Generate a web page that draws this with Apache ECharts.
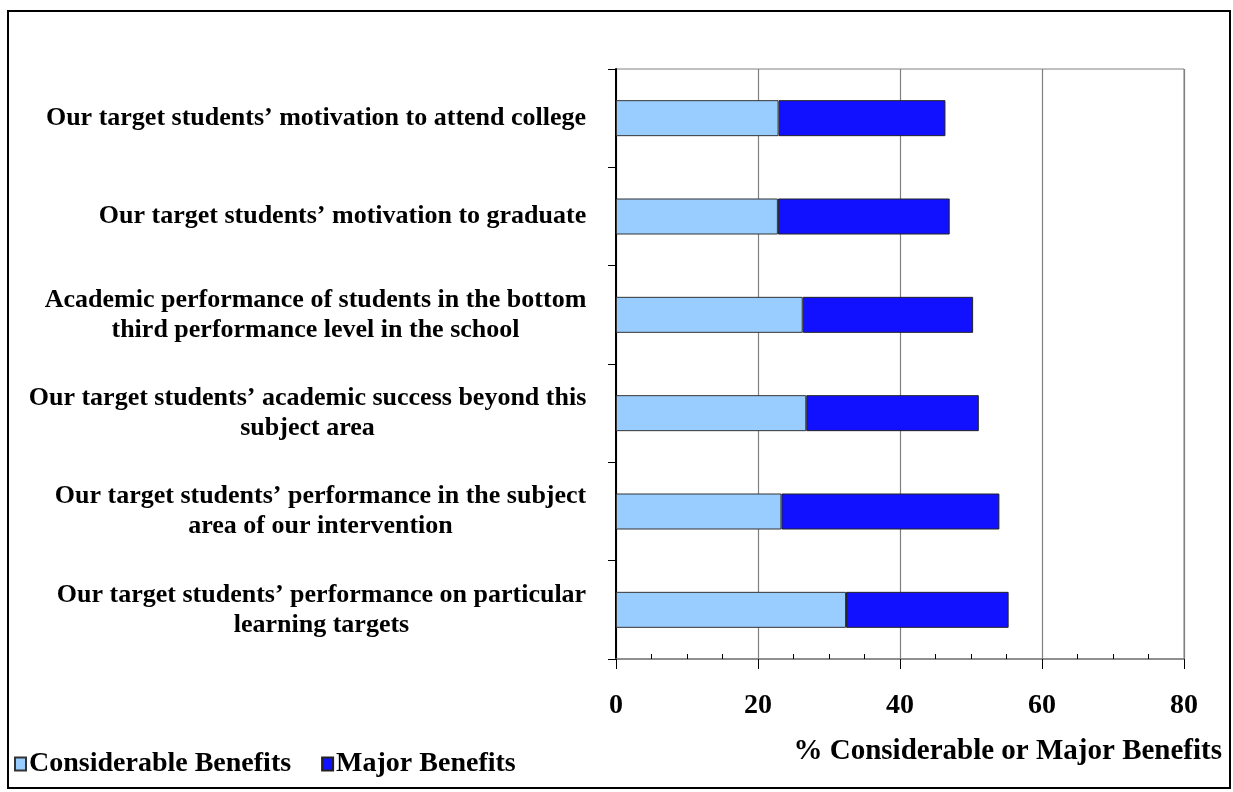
<!DOCTYPE html>
<html>
<head>
<meta charset="utf-8">
<title>Benefits of the intervention</title>
<script src="https://cdn.jsdelivr.net/npm/echarts@6/dist/echarts.min.js"></script>
<style>
  html, body { margin: 0; padding: 0; background: #ffffff; }
  #chart { width: 1233px; height: 792px; }
</style>
</head>
<body>
<div id="chart"></div>
<script>
// Survey items, listed top to bottom
const categories = [
  'Our target students\u2019 motivation to attend college',
  'Our target students\u2019 motivation to graduate',
  'Academic performance of students in the bottom\nthird performance level in the school',
  'Our target students\u2019 academic success beyond this\nsubject area',
  'Our target students\u2019 performance in the subject\narea of our intervention',
  'Our target students\u2019 performance on particular\nlearning targets'
];

// Percent of respondents per benefit level
const considerable = [22.9, 22.8, 26.3, 26.8, 23.3, 32.4];
const major = [23.5, 24.2, 24.0, 24.3, 30.7, 22.9];

const seriesNames = ['Considerable Benefits', 'Major Benefits'];
const axisTitle = '% Considerable or Major Benefits';

const xMin = 0, xMax = 80, xStep = 20;

const FONT = '"Liberation Serif", "Times New Roman", "DejaVu Serif", serif';
const LABEL_SIZE = 26;

// Measure the widest line of each label so that wrapped lines are centred
// against each other while the whole block stays right-aligned to the axis.
const measureCtx = document.createElement('canvas').getContext('2d');
measureCtx.font = 'bold ' + LABEL_SIZE + 'px ' + FONT;
const rich = {};
categories.forEach(function (c, i) {
  const w = Math.max.apply(null, c.split('\n').map(function (s) {
    return measureCtx.measureText(s).width;
  }));
  rich['c' + i] = {
    width: Math.ceil(w) + 1,
    align: 'center',
    fontSize: LABEL_SIZE,
    fontWeight: 'bold',
    fontFamily: FONT,
    color: '#000',
    lineHeight: 30
  };
});

const chart = echarts.init(document.getElementById('chart'), null, { renderer: 'canvas' });

const gridRect = { left: 616, top: 69, width: 568, height: 590 };

chart.setOption({
  backgroundColor: '#ffffff',
  animation: false,
  grid: Object.assign({
    show: true,
    borderColor: '#808080',
    borderWidth: 1,
    containLabel: false
  }, gridRect),
  legend: {
    left: 9,
    top: 745,
    itemWidth: 11,
    itemHeight: 13,
    itemGap: 30,
    icon: 'rect',
    textStyle: { fontFamily: FONT, fontWeight: 'bold', fontSize: 28, color: '#000', padding: [0, 0, 0, -2] },
    data: seriesNames
  },
  xAxis: [
    {
      type: 'value',
      min: xMin,
      max: xMax,
      interval: xStep,
      position: 'bottom',
      axisLine: { show: true, lineStyle: { color: '#808080', width: 1.5 } },
      axisTick: { show: true, length: 10, lineStyle: { color: '#000', width: 1 } },
      axisLabel: {
        margin: 33,
        fontFamily: FONT, fontWeight: 'bold', fontSize: 28, color: '#000'
      },
      splitLine: { show: true, lineStyle: { color: '#808080', width: 1.2 } }
    },
    {
      // minor ticks that point into the plot area
      type: 'value',
      min: xMin,
      max: xMax,
      interval: xStep,
      position: 'bottom',
      axisLine: { show: false },
      axisTick: { show: false, inside: true },
      minorTick: { show: true, splitNumber: 4, length: 5, lineStyle: { color: '#000', width: 1 } },
      axisLabel: { show: false },
      splitLine: { show: false }
    }
  ],
  yAxis: {
    type: 'category',
    inverse: true,
    data: categories,
    boundaryGap: true,
    axisLine: { show: true, lineStyle: { color: '#000', width: 2 } },
    axisTick: { show: true, length: 8, alignWithLabel: false, lineStyle: { color: '#000', width: 1 } },
    axisLabel: {
      margin: 29,
      interval: 0,
      formatter: function (value, index) {
        return value.split('\n').map(function (s) { return '{c' + index + '|' + s + '}'; }).join('\n');
      },
      rich: rich
    },
    splitLine: { show: false }
  },
  series: [
    {
      name: seriesNames[0],
      type: 'bar',
      stack: 'total',
      xAxisIndex: 0,
      barWidth: 36,
      itemStyle: { color: '#99CCFF', borderColor: '#333333', borderWidth: 1 },
      data: considerable
    },
    {
      name: seriesNames[1],
      type: 'bar',
      stack: 'total',
      xAxisIndex: 0,
      barWidth: 36,
      itemStyle: { color: '#1111FF', borderColor: '#222222', borderWidth: 1 },
      data: major
    }
  ],
  graphic: [
    {
      type: 'rect',
      shape: { x: 8, y: 11, width: 1222, height: 777 },
      style: { fill: 'none', stroke: '#000', lineWidth: 2 },
      silent: true
    },
    {
      type: 'text',
      right: 11,
      top: 737,
      style: {
        text: axisTitle,
        fontFamily: FONT,
        fontWeight: 'bold',
        fontSize: 29,
        fill: '#000'
      }
    }
  ]
});
</script>
</body>
</html>
